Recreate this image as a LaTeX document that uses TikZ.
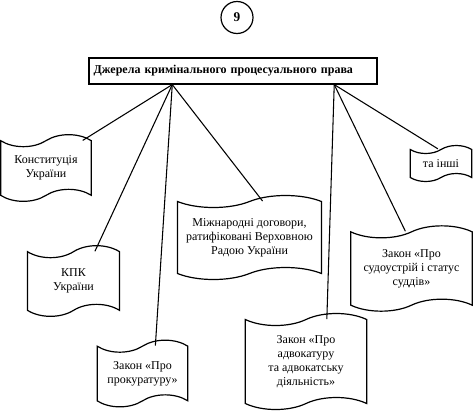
\documentclass[tikz,border=0pt]{standalone}
\usepackage{fontspec}
\setmainfont{Liberation Serif}
\usetikzlibrary{shapes.symbols,calc}

\begin{document}
\begin{tikzpicture}[x=0.75pt,y=-0.75pt,line width=0.9pt,
	font=\fontsize{9}{10.5}\selectfont]
	\tikzstyle{flag}=[draw,tape,align=center,inner sep=1pt,tape bend height=9pt]
	\tikzstyle{link}=[line width=0.8pt]

	\useasboundingbox (0,0) rectangle (473,411);

	\node[draw,circle,minimum size=24pt,inner sep=0pt,font=\bfseries] (num) at (237,17.5) {9};
	\node[draw,minimum width=216pt,minimum height=19.5pt,text width=209pt,inner xsep=3.5pt,align=left,
		font=\fontsize{9}{11}\selectfont\bfseries] (title) at (233,71)
		{Джерела кримінального процесуального права};

	\coordinate (hubL) at ($(title.south west)!0.29!(title.south east)$);
	\coordinate (hubR) at ($(title.south west)!0.85!(title.south east)$);

	\node[flag,minimum width=68pt,minimum height=50pt] (konst) at (46,168) {Конституція\\України};
	\node[flag,minimum width=69pt,minimum height=53pt] (kpk) at (73.5,281) {КПК\\України};
	\node[flag,minimum width=68pt,minimum height=50pt] (prok) at (142.5,373.5) {Закон «Про\\прокуратуру»};
	\node[flag,minimum width=108pt,minimum height=63pt] (mizh) at (249.5,237.5)
		{Міжнародні договори,\\ратифіковані Верховною\\Радою України};
	\node[flag,minimum width=91pt,minimum height=72pt] (advok) at (306,361.5)
		{Закон «Про\\адвокатуру\\та адвокатську\\діяльність»};
	\node[flag,minimum width=91pt,minimum height=64pt] (sud) at (411.5,268.5)
		{Закон «Про\\судоустрій і статус\\суддів»};
	\node[flag,minimum width=46pt,minimum height=27pt,tape bend height=6pt] (inshi) at (441,163.5) {та інші};

	\draw[link] (hubL) -- ($(konst.north west)!0.9!(konst.north east)$);
	\draw[link] (hubL) -- ($(kpk.north west)!0.73!(kpk.north east)$);
	\draw[link] (hubL) -- ($(prok.north west)!0.64!(prok.north east)$);
	\draw[link] (hubL) -- ($(mizh.north west)!0.59!(mizh.north east)$);
	\draw[link] (hubR) -- ($(advok.north west)!0.67!(advok.north east)$);
	\draw[link] (hubR) -- ($(sud.north west)!0.45!(sud.north east)$);
	\draw[link] (hubR) -- ($(inshi.north west)!0.45!(inshi.north east)$);
\end{tikzpicture}
\end{document}
